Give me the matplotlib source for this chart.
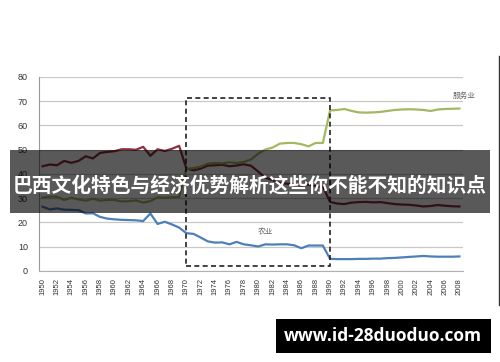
import matplotlib
matplotlib.use("Agg")
import matplotlib.pyplot as plt
from matplotlib.patches import Rectangle
from matplotlib.lines import Line2D

plt.rcParams['font.family'] = ['Liberation Sans', 'Noto Sans CJK SC', 'DejaVu Sans']

years = list(range(1950, 2009))
# agriculture (blue)
agri = [26.5, 25.4, 25.8, 25.3, 25.2, 25.1, 23.7, 23.8, 22.3, 21.6,
        21.3, 21.1, 21.0, 20.9, 20.6, 23.7, 19.4, 20.3, 19.2, 17.9,
        15.6, 15.3, 13.8, 12.2, 11.7, 11.8, 11.0, 12.0, 11.0, 10.6,
        10.1, 11.0, 10.9, 11.0, 11.0, 10.6, 9.4, 10.5, 10.5, 10.5,
        5.0, 4.9, 4.9, 4.9, 5.0, 5.0, 5.1, 5.1, 5.3, 5.4,
        5.6, 5.8, 6.0, 6.2, 6.0, 5.9, 5.9, 5.9, 6.0]
# industry (red)
indus = [43.2, 43.9, 43.6, 45.4, 44.6, 45.4, 47.3, 46.4, 48.7, 49.1,
         49.4, 50.2, 50.2, 50.0, 51.2, 47.5, 50.2, 49.5, 50.4, 51.6,
         42.3, 41.5, 42.2, 43.5, 43.6, 43.8, 43.2, 43.5, 44.0, 43.4,
         41.0, 38.5, 37.5, 36.3, 36.0, 35.8, 35.2, 35.6, 35.0, 34.8,
         28.5, 27.8, 27.6, 28.2, 28.4, 28.5, 28.3, 28.4, 28.0, 27.6,
         27.4, 27.3, 27.0, 26.6, 26.8, 27.2, 26.9, 26.7, 26.6]
# services (green)
serv = [30.3, 30.7, 30.6, 29.3, 30.2, 29.5, 29.0, 29.8, 29.0, 29.3,
        29.3, 28.7, 28.8, 29.1, 28.2, 28.8, 30.4, 30.2, 30.4, 30.5,
        42.1, 42.4, 43.0, 44.3, 44.5, 44.4, 44.8, 44.5, 45.0, 46.0,
        48.4, 50.1, 50.9, 52.5, 52.8, 52.8, 52.3, 51.4, 52.8, 52.8,
        66.2, 66.4, 66.8, 66.0, 65.4, 65.3, 65.4, 65.6, 66.0, 66.4,
        66.6, 66.7, 66.6, 66.4, 66.0, 66.6, 66.8, 66.9, 67.0]
box_years = (1970, 1990)
box_values = (2, 71.5)
title = "巴西文化特色与经济优势解析这些你不能不知的知识点"
site = "www.id-28duoduo.com"

fig = plt.figure(figsize=(5, 3.62), dpi=100)
ax = fig.add_axes([0.078, 0.2514, 0.848, 0.5359])

ax.plot(years, agri, color='#4f7fb9', lw=1.6)
ax.plot(years, indus, color='#8e2f3e', lw=1.6)
ax.plot(years, serv, color='#a3b862', lw=1.6)

# dashed box for 1970-1990
ax.add_patch(Rectangle((box_years[0], box_values[0]), box_years[1] - box_years[0],
                       box_values[1] - box_values[0], fill=False, ls=(0, (3, 2)),
                       lw=1.2, edgecolor='#222222', zorder=5))

ax.text(2008.6, 72, "服务业", fontsize=5.5, color='#666666', ha='center', va='center',
        family=['Noto Sans CJK SC'])
ax.text(1981, 15.8, "农业", fontsize=5.5, color='#666666', ha='center', va='center',
        family=['Noto Sans CJK SC'])

ax.set_xlim(1949.5, 2008.5)
ax.set_ylim(0, 80)
ax.set_yticks(range(0, 81, 10))
ax.set_xticks(years[::2])
ax.set_xticklabels([str(y) for y in years[::2]], rotation=90)
ax.tick_params(axis='y', length=0, pad=8, labelsize=6.5, labelcolor='#333333')
ax.tick_params(axis='x', length=0, pad=5, labelsize=5.5, labelcolor='#333333')
ax.grid(axis='y', color='#c8c8c8', lw=0.9)
ax.set_axisbelow(True)
for s in ['top', 'right']:
    ax.spines[s].set_visible(False)
ax.spines['left'].set_color('#999999')
ax.spines['bottom'].set_color('#b0b0b0')

# title banner across the chart
fig.patches.append(Rectangle((0.02, 0.4116), 0.96, 0.174, transform=fig.transFigure,
                             facecolor='black', alpha=0.65, edgecolor='none', zorder=10))
fig.text(0.5, 0.486, title, color='white', fontsize=14.2, fontweight='bold',
         ha='center', va='center', family=['Noto Sans CJK SC'], zorder=11)

# watermark box
fig.patches.append(Rectangle((0.552, 0.0257), 0.429, 0.0931, transform=fig.transFigure,
                             facecolor='black', edgecolor='none', zorder=10))
fig.text(0.765, 0.071, site, color='white', fontsize=12.5, fontweight='bold',
         ha='center', va='center', family=['Open Sans', 'DejaVu Sans'], zorder=11)

fig.lines.append(Line2D([0.998, 0.998], [0.157, 0.845], transform=fig.transFigure,
                        color='#333333', lw=1))

plt.savefig("out.png", dpi=100)
